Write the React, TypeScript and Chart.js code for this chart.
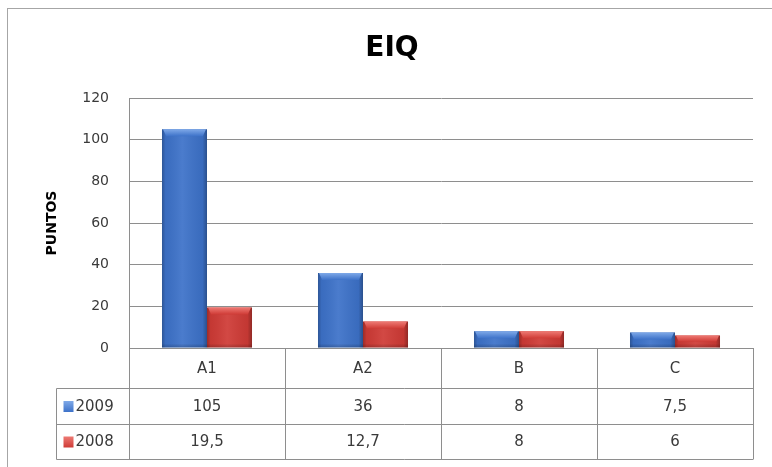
import { useEffect, useRef } from "react";
import { Chart, registerables } from "chart.js";

Chart.register(...registerables);

const chartTitle = "EIQ";
const yAxisTitle = "PUNTOS";
const categories = ["A1", "A2", "B", "C"];
const seriesNames = ["2009", "2008"];
const values2009 = [105, 36, 8, 7.5];
const values2008 = [19.5, 12.7, 8, 6];
const yMin = 0;
const yMax = 120;
const yStep = 20;

const seriesValues = [values2009, values2008];
const seriesColors = ["#3d72c9", "#cf3b36"];
const seriesLight = ["#7fa9e8", "#ee7a74"];
const FONT = "DejaVu Sans";
const LINE = "#8e8e8e";

const fmt = (v: number) => String(v).replace(".", ",");

const bevelPlugin = {
  id: "bevel",
  afterDatasetsDraw(chart: any) {
    const ctx = chart.ctx as CanvasRenderingContext2D;
    chart.data.datasets.forEach((_: any, di: number) => {
      const meta = chart.getDatasetMeta(di);
      meta.data.forEach((el: any) => {
        const { x, y, base, width } = el.getProps(["x", "y", "base", "width"], true);
        const l = x - width / 2;
        const r = x + width / 2;
        const h = base - y;
        ctx.save();
        const g = ctx.createLinearGradient(l, 0, r, 0);
        g.addColorStop(0, "rgba(0,0,0,0.25)");
        g.addColorStop(0.08, "rgba(0,0,0,0.05)");
        g.addColorStop(0.45, "rgba(255,255,255,0.07)");
        g.addColorStop(0.9, "rgba(0,0,0,0.06)");
        g.addColorStop(1, "rgba(0,0,0,0.3)");
        ctx.fillStyle = g;
        ctx.fillRect(l, y, width, h);
        const bg = ctx.createLinearGradient(0, base - 4, 0, base);
        bg.addColorStop(0, "rgba(0,0,0,0)");
        bg.addColorStop(1, "rgba(0,0,0,0.2)");
        ctx.fillStyle = bg;
        ctx.fillRect(l, base - 4, width, 4);
        const b = Math.min(7, h / 2);
        const tg = ctx.createLinearGradient(0, y, 0, y + b);
        tg.addColorStop(0, seriesLight[di]);
        tg.addColorStop(1, seriesColors[di]);
        ctx.fillStyle = tg;
        ctx.beginPath();
        ctx.moveTo(l + 1, y);
        ctx.lineTo(r - 1, y);
        ctx.lineTo(r - b * 0.6, y + b);
        ctx.lineTo(l + b * 0.6, y + b);
        ctx.closePath();
        ctx.fill();
        ctx.restore();
      });
    });
  },
};

const framePlugin = {
  id: "frameAndTable",
  beforeDraw(chart: any) {
    const ctx = chart.ctx as CanvasRenderingContext2D;
    ctx.save();
    ctx.fillStyle = "#ffffff";
    ctx.fillRect(0, 0, chart.width, chart.height);
    ctx.strokeStyle = "#a6a6a6";
    ctx.lineWidth = 1;
    ctx.strokeRect(7.5, 8.5, chart.width + 20, chart.height + 20);
    ctx.restore();
  },
  afterDraw(chart: any) {
    const ctx = chart.ctx as CanvasRenderingContext2D;
    const area = chart.chartArea;
    const xs = chart.scales.x;
    const n = categories.length;
    const catW = (area.right - area.left) / n;
    const rows = [area.bottom, area.bottom + 40, area.bottom + 76, area.bottom + 111];
    const legendLeft = 56.5;
    ctx.save();
    ctx.strokeStyle = LINE;
    ctx.lineWidth = 1;
    ctx.beginPath();
    ctx.moveTo(area.left, Math.round(rows[0]) + 0.5);
    ctx.lineTo(area.right, Math.round(rows[0]) + 0.5);
    for (let i = 1; i < rows.length; i++) {
      ctx.moveTo(legendLeft, Math.round(rows[i]) + 0.5);
      ctx.lineTo(area.right, Math.round(rows[i]) + 0.5);
    }
    for (let i = 0; i <= n; i++) {
      const xx = Math.round(area.left + i * catW) + 0.5;
      ctx.moveTo(xx, rows[0]);
      ctx.lineTo(xx, rows[3] + 0.5);
    }
    ctx.moveTo(legendLeft, Math.round(rows[1]) + 0.5);
    ctx.lineTo(legendLeft, Math.round(rows[3]) + 0.5);
    ctx.stroke();

    ctx.fillStyle = "#3a3a3a";
    ctx.textAlign = "center";
    ctx.textBaseline = "middle";
    ctx.font = `15px "${FONT}"`;
    categories.forEach((c, i) => {
      const cx = xs.getPixelForValue(i);
      ctx.fillText(c, cx, (rows[0] + rows[1]) / 2 + 1);
      seriesValues.forEach((vals, si) => {
        ctx.fillText(fmt(vals[i]), cx, (rows[si + 1] + rows[si + 2]) / 2 + 1);
      });
    });
    seriesNames.forEach((name, si) => {
      const cy = (rows[si + 1] + rows[si + 2]) / 2;
      const sx = legendLeft + 7;
      const g = ctx.createLinearGradient(0, cy - 5, 0, cy + 6);
      g.addColorStop(0, seriesLight[si]);
      g.addColorStop(1, seriesColors[si]);
      ctx.fillStyle = g;
      ctx.fillRect(sx, cy - 5, 10, 11);
      ctx.fillStyle = "#3a3a3a";
      ctx.textAlign = "left";
      ctx.fillText(name, sx + 12, cy + 1);
    });

    ctx.font = `bold 28px "${FONT}"`;
    ctx.fillStyle = "#000000";
    ctx.textAlign = "center";
    ctx.fillText(chartTitle, 392, 49);
    ctx.restore();
  },
};

export default function App() {
  const ref = useRef<HTMLCanvasElement | null>(null);
  useEffect(() => {
    if (!ref.current) return;
    const chart = new Chart(ref.current, {
      type: "bar",
      data: {
        labels: categories,
        datasets: seriesNames.map((name, i) => ({
          label: name,
          data: seriesValues[i],
          backgroundColor: seriesColors[i],
          borderWidth: 0,
          categoryPercentage: 0.577,
          barPercentage: 1,
        })),
      },
      options: {
        animation: false,
        responsive: true,
        maintainAspectRatio: false,
        layout: { padding: { left: 44, right: 19, top: 98, bottom: 119 } },
        plugins: {
          legend: { display: false },
          title: { display: false },
          tooltip: { enabled: false },
        },
        scales: {
          x: { display: false },
          y: {
            min: yMin,
            max: yMax,
            ticks: {
              stepSize: yStep,
              padding: 20,
              color: "#3a3a3a",
              font: { family: FONT, size: 14 },
            },
            grid: { color: LINE, drawTicks: false, lineWidth: 1 },
            border: { display: true, color: LINE },
            title: {
              display: true,
              text: yAxisTitle,
              color: "#000000",
              padding: 0,
              font: { family: FONT, size: 14, weight: "bold" },
            },
            afterFit: (scale: any) => {
              scale.width = 85;
            },
          },
        },
      },
      plugins: [framePlugin, bevelPlugin],
    });
    return () => chart.destroy();
  }, []);
  return (
    <div style={{ position: "fixed", left: 0, top: 0, width: 772, height: 467, background: "#fff" }}>
      <canvas ref={ref} />
    </div>
  );
}
